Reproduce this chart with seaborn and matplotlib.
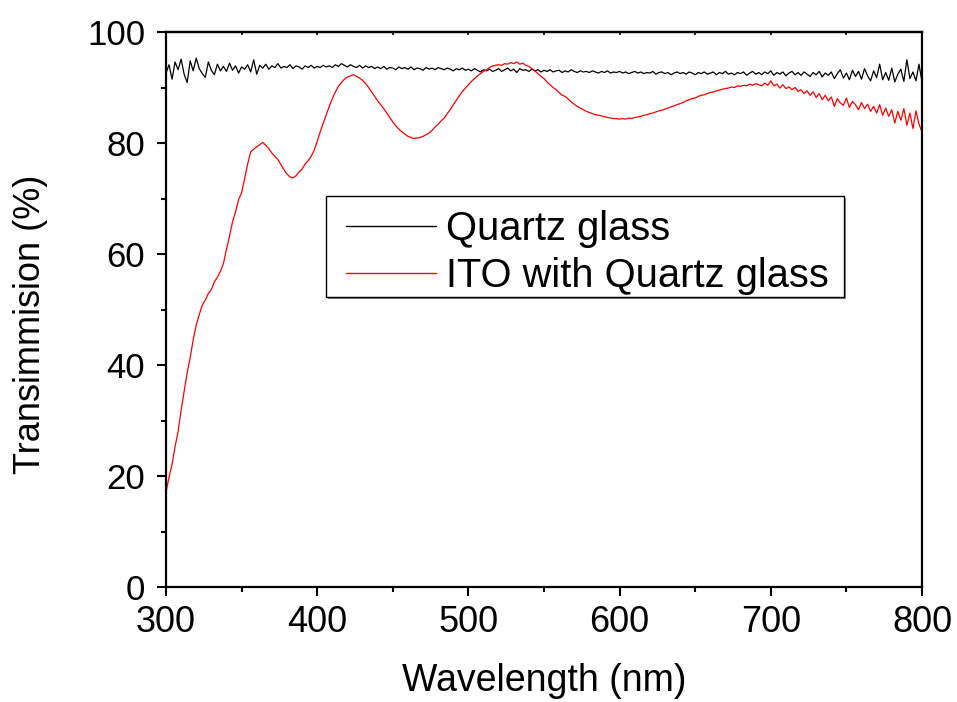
import numpy as np
import pandas as pd
import matplotlib
matplotlib.use("Agg")
import matplotlib.pyplot as plt
from matplotlib.lines import Line2D
from matplotlib.legend_handler import HandlerLine2D
from matplotlib.patches import Rectangle
import seaborn as sns

wavelength = np.arange(300, 801, 2)

quartz = [
    92.6, 94.1, 91.5, 94.6, 93.2, 95.1, 92.4, 90.9, 94.8, 93.0,
    95.3, 93.4, 92.5, 91.8, 94.6, 93.1, 92.3, 94.2, 93.0, 93.8,
    92.9, 94.4, 93.1, 93.9, 92.6, 93.7, 93.3, 94.1, 92.8, 95.0,
    92.4, 94.0, 93.5, 94.2, 93.3, 93.9, 93.6, 94.3, 93.5, 93.8,
    93.6, 94.1, 93.4, 93.9, 93.7, 93.3, 93.9, 93.6, 94.0, 93.5,
    93.8, 93.6, 94.0, 93.7, 93.9, 93.6, 94.1, 93.8, 94.3, 94.0,
    93.7, 94.1, 93.8, 93.6, 94.0, 93.5, 93.9, 93.6, 93.8, 93.4,
    93.7, 93.4, 93.8, 93.3, 93.6, 93.5, 93.2, 93.7, 93.4, 93.6,
    93.3, 93.7, 93.2, 93.5, 93.4, 93.1, 93.6, 93.3, 93.5, 93.2,
    93.6, 93.4, 93.2, 93.5, 93.3, 93.0, 93.4, 93.2, 93.5, 93.1,
    93.3, 93.0, 93.4, 93.1, 92.8, 93.2, 93.0, 93.3, 92.9, 93.1,
    93.4, 92.9, 93.2, 93.5, 93.0, 93.3, 92.7, 93.4, 93.1, 93.2,
    92.9, 93.3, 93.0, 93.2, 92.8, 93.1, 92.9, 93.2, 92.8, 93.0,
    93.1, 92.7, 93.0, 92.8, 93.2, 92.9, 92.7, 93.0, 92.8, 92.9,
    92.7, 93.0, 92.8, 92.6, 92.9, 92.7, 93.0, 92.6, 92.8, 92.7,
    92.9, 92.6, 92.8, 92.5, 92.7, 92.9, 92.6, 92.8, 92.5, 92.7,
    92.6, 92.9, 92.4, 92.7, 92.8, 92.5, 92.7, 92.3, 92.6, 92.8,
    92.5, 92.7, 92.4, 92.8, 92.6, 92.3, 92.7, 92.5, 92.8, 92.4,
    92.6, 92.8, 92.3, 92.7, 92.5, 92.9, 92.4, 92.6, 92.3, 92.7,
    92.5, 92.8, 92.2, 92.6, 92.9, 92.4, 92.7, 92.3, 92.8, 92.5,
    93.0, 92.2, 92.7, 92.4, 92.8, 92.1, 92.6, 92.9, 92.3, 92.7,
    92.2, 92.8, 92.4, 92.0, 92.7, 92.3, 92.9, 91.9, 92.6, 92.2,
    92.8, 91.6, 92.5, 93.2, 91.7, 92.6, 91.4, 93.1, 92.0, 92.9,
    91.5, 93.4, 92.1, 91.2, 93.0, 91.8, 94.2, 91.4, 92.7, 91.3,
    93.5, 91.0, 92.4, 93.3, 91.1, 95.0, 91.6, 92.8, 91.2, 94.2,
    91.0,
]

ito = [
    17.0, 19.8, 22.1, 25.3, 28.0, 31.9, 35.2, 38.6, 41.3, 44.6,
    47.2, 49.1, 50.8, 51.7, 52.9, 53.6, 55.0, 55.8, 56.9, 58.3,
    60.9, 63.2, 65.8, 67.6, 69.8, 71.0, 73.6, 76.2, 78.4, 78.9,
    79.3, 79.7, 80.1, 79.6, 79.0, 78.2, 77.6, 77.0, 76.1, 75.2,
    74.4, 73.9, 73.7, 74.1, 74.8, 75.3, 76.2, 76.8, 77.6, 78.7,
    80.3, 82.0, 83.6, 85.1, 86.6, 88.0, 89.2, 90.2, 90.9, 91.5,
    91.9, 92.1, 92.3, 92.0, 91.7, 91.3, 90.7, 90.0, 89.2, 88.4,
    87.6, 86.9, 86.2, 85.4, 84.6, 83.8, 83.1, 82.5, 82.0, 81.6,
    81.2, 81.0, 80.8, 80.9, 81.0, 81.2, 81.5, 81.8, 82.3, 82.9,
    83.4, 84.0, 84.5, 85.3, 86.0, 86.9, 87.7, 88.5, 89.3, 89.9,
    90.5, 91.1, 91.6, 92.1, 92.5, 92.9, 93.2, 93.6, 93.9, 94.0,
    94.1, 94.0, 94.3, 94.2, 94.5, 94.3, 94.6, 94.2, 94.4, 94.0,
    93.8, 93.4, 93.0, 92.5, 92.0, 91.6, 91.0, 90.5, 90.0, 89.6,
    89.1, 88.6, 88.4, 87.9, 87.4, 87.0, 86.6, 86.3, 86.0, 85.7,
    85.5, 85.3, 85.1, 85.0, 84.9, 84.7, 84.6, 84.5, 84.4, 84.4,
    84.3, 84.4, 84.3, 84.5, 84.4, 84.6, 84.7, 84.8, 85.0, 85.1,
    85.3, 85.4, 85.6, 85.8, 85.9, 86.1, 86.3, 86.5, 86.7, 86.9,
    87.1, 87.3, 87.6, 87.8, 88.0, 88.1, 88.4, 88.6, 88.7, 88.9,
    89.1, 89.2, 89.4, 89.5, 89.7, 89.8, 89.9, 90.1, 90.0, 90.3,
    90.2, 90.4, 90.3, 90.6, 90.4, 90.7, 90.5, 90.3, 90.8, 90.4,
    91.2, 90.3, 90.6, 89.9, 90.5, 89.8, 90.1, 89.6, 90.0, 89.3,
    89.6, 88.9, 89.4, 88.6, 89.2, 88.2, 88.9, 87.8, 88.6, 87.6,
    88.3, 86.6, 88.0, 87.2, 86.8, 88.1, 86.4, 87.5, 86.9, 86.0,
    87.3, 86.2, 87.0, 85.7, 86.6, 85.4, 86.9, 85.0, 86.3, 84.8,
    86.0, 83.6, 85.7, 84.1, 86.2, 83.2, 85.4, 82.6, 85.8, 83.4,
    82.0,
]

series_names = ["Quartz glass", "ITO with Quartz glass"]
series_colors = ["#000000", "#ff0000"]
x_ticks = [300, 400, 500, 600, 700, 800]
y_ticks = [0, 20, 40, 60, 80, 100]

sns.set_style("ticks")
plt.rcParams["font.family"] = ["Liberation Sans", "DejaVu Sans"]
plt.rcParams.update({
    "text.color": "black", "axes.labelcolor": "black",
    "xtick.color": "black", "ytick.color": "black", "axes.edgecolor": "black",
})

df = pd.DataFrame({
    "Wavelength": np.concatenate([wavelength, wavelength]),
    "T": np.concatenate([quartz, ito]),
    "Series": [series_names[0]] * len(wavelength) + [series_names[1]] * len(wavelength),
})

W, H = 957, 702
fig = plt.figure(figsize=(W / 100, H / 100), dpi=100)
x0, x1, y0, y1 = 166, 922, 32, 587
ax = fig.add_axes([x0 / W, 1 - y1 / H, (x1 - x0) / W, (y1 - y0) / H])


def axx(px):
    return (px - x0) / (x1 - x0)


def axy(py):
    return (y1 - py) / (y1 - y0)


sns.lineplot(data=df, x="Wavelength", y="T", hue="Series",
             palette=dict(zip(series_names, series_colors)),
             linewidth=0.9, ax=ax, estimator=None, sort=False)

ax.set_xlim(300, 800)
ax.set_ylim(0, 100)
ax.set_xticks(x_ticks)
ax.set_yticks(y_ticks)
ax.set_xticks(np.arange(350, 800, 100), minor=True)
ax.set_yticks(np.arange(10, 100, 20), minor=True)
ax.tick_params(axis="both", which="major", length=6.5, width=1.5, direction="out")
ax.tick_params(axis="both", which="minor", length=3.5, width=1.5, direction="out")
ax.tick_params(axis="x", which="major", labelsize=26, pad=6.3)
ax.tick_params(axis="y", which="major", labelsize=25, pad=8.5)
for s in ax.spines.values():
    s.set_linewidth(1.6)
    s.set_visible(True)

# small inward ticks on the top edge
top = ax.secondary_xaxis("top")
top.set_xticks(x_ticks)
top.set_xticks(np.arange(350, 800, 100), minor=True)
top.tick_params(which="both", direction="in", length=2.5, width=1.2, labeltop=False)
top.spines["top"].set_linewidth(1.6)

ax.set_xlabel("Wavelength (nm)", fontsize=27)
ax.set_ylabel("Transimmision (%)", fontsize=26)
ax.xaxis.set_label_coords(0.5, axy(663))
ax.yaxis.set_label_coords(axx(48), axy(324))

# legend frame with a thin grey shadow
box_l, box_r, box_t, box_b = 326, 844, 196, 297
ax.add_patch(Rectangle((axx(box_l + 1.5), axy(box_b + 1.5)), axx(box_r) - axx(box_l),
                       axy(box_t) - axy(box_b), transform=ax.transAxes,
                       facecolor="0.55", edgecolor="none", zorder=4, clip_on=False))
ax.add_patch(Rectangle((axx(box_l), axy(box_b)), axx(box_r) - axx(box_l),
                       axy(box_t) - axy(box_b), transform=ax.transAxes,
                       facecolor="white", edgecolor="black", linewidth=1.0,
                       zorder=4.5, clip_on=False))

fs = 28.7
fs_px = fs * 100 / 72
line_start, line_end, text_start = 346, 436, 446
leg = ax.legend(loc="upper left",
                bbox_to_anchor=(axx(box_l), axy(210)),
                fontsize=fs, frameon=False,
                handlelength=(line_end - box_l) / fs_px,
                handletextpad=(text_start - line_end) / fs_px,
                borderpad=0, labelspacing=0.23, borderaxespad=0,
                handler_map={Line2D: HandlerLine2D(xpad=(line_start - box_l) / fs_px)})
leg.set_zorder(5)
for h in leg.get_lines():
    h.set_linewidth(1.0)

fig.savefig("out.png", dpi=100)
